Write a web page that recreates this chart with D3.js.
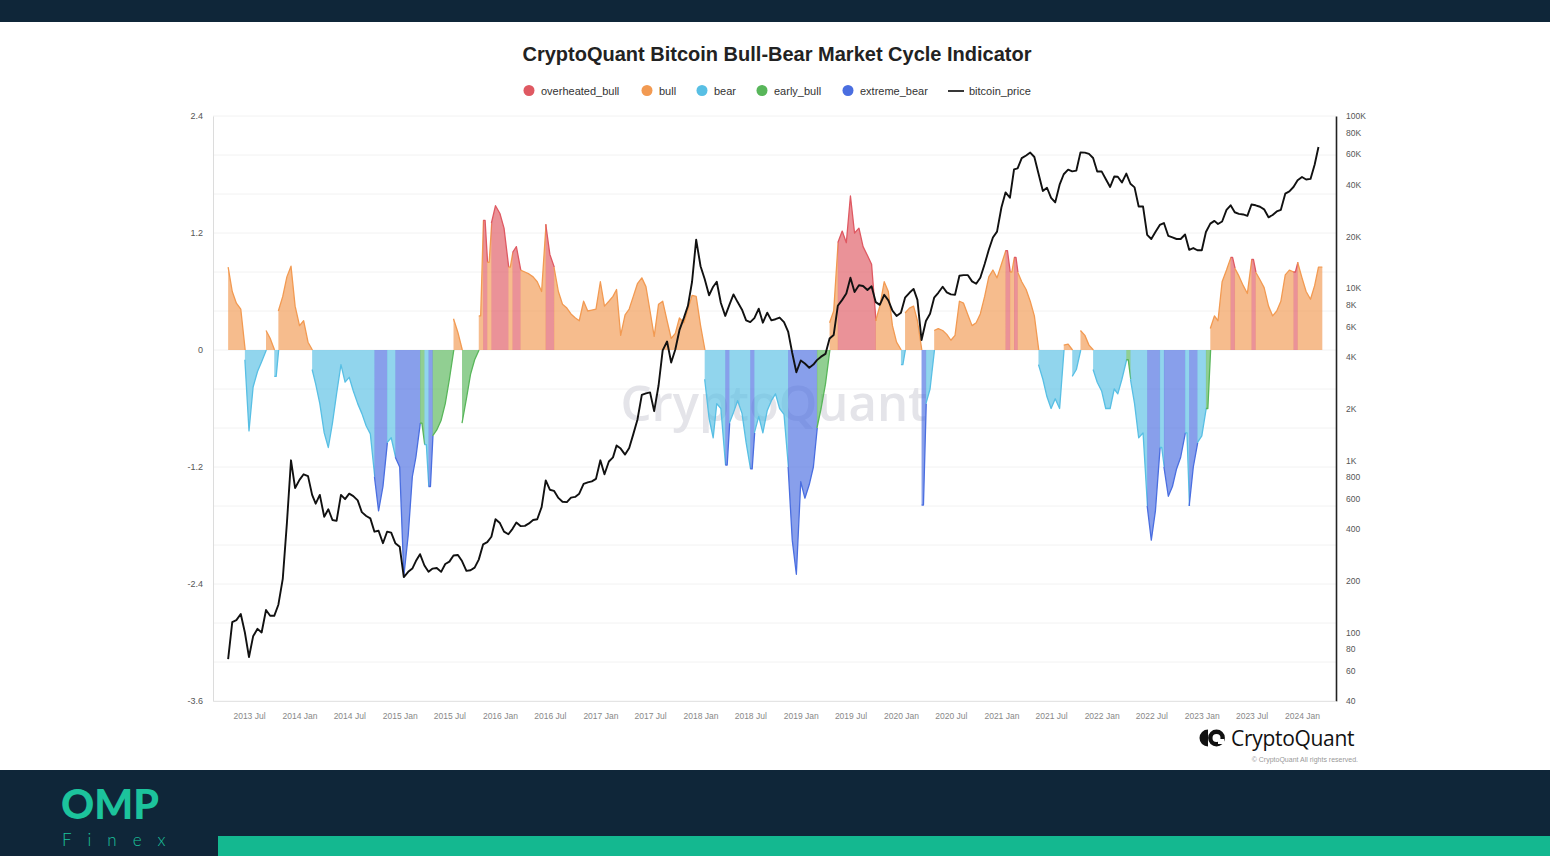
<!DOCTYPE html>
<html><head><meta charset="utf-8">
<script src="https://cdn.jsdelivr.net/npm/d3@7"></script>
<style>
body{margin:0;background:#fff;}
svg{display:block;font-family:"Liberation Sans",Arial,sans-serif;}
</style>
</head><body>
<svg id="c" width="1550" height="856"></svg>
<script>
// ---------- DATA ----------
const startDate = "2013-04-16";           // semi-monthly samples: 16th, 1st, 16th, ...
const seriesNames = ["overheated_bull","bull","bear","early_bull","extreme_bear"];
const phaseCodes = {O:"overheated_bull",B:"bull",R:"bear",E:"early_bull",X:"extreme_bear"};

const indicator = [
 0.85,0.6,0.48,0.42,-0.1,-0.83,-0.38,-0.22,-0.12,0.2,0.12,-0.27,0.4,0.55,0.75,0.86,0.45,0.25,0.3,0.08,
 -0.2,-0.35,-0.55,-0.85,-1.0,-0.75,-0.45,-0.15,-0.33,-0.28,-0.42,-0.55,-0.65,-0.78,-0.86,-1.3,-1.65,-1.4,-0.95,-0.9,
 -1.1,-1.2,-2.32,-1.9,-1.3,-1.1,-0.75,-0.97,-1.4,-0.88,-0.82,-0.72,-0.55,-0.3,0.32,0.18,-0.75,-0.5,-0.25,-0.1,
 0.35,1.33,0.9,1.3,1.48,1.4,1.25,0.85,1.0,1.06,0.82,0.8,0.78,0.75,0.7,0.6,1.29,0.98,0.85,0.6,
 0.47,0.43,0.37,0.33,0.3,0.5,0.4,0.41,0.42,0.7,0.45,0.5,0.55,0.62,0.15,0.36,0.42,0.55,0.68,0.74,
 0.65,0.4,0.14,0.47,0.5,0.3,0.12,0.17,0.33,0.28,0.42,0.56,0.55,0.25,-0.3,-0.7,-0.9,-0.55,-0.6,-1.18,
 -0.75,-0.64,-0.52,-0.65,-0.95,-1.22,-0.85,-0.68,-0.85,-0.62,-0.52,-0.45,-0.6,-0.66,-1.2,-1.95,-2.3,-1.35,-1.52,-1.38,
 -1.2,-0.8,-0.6,-0.35,0.28,0.4,1.1,1.22,1.1,1.58,1.2,1.25,1.06,0.97,0.88,0.3,0.45,0.7,0.6,0.25,
 0.08,-0.15,0.38,0.43,0.45,0.3,-1.59,-0.55,-0.4,0.2,0.22,0.2,0.16,0.1,0.15,0.5,0.48,0.36,0.25,0.28,
 0.37,0.55,0.75,0.82,0.74,0.88,1.02,0.8,0.95,0.8,0.7,0.62,0.5,0.35,-0.15,-0.3,-0.48,-0.6,-0.5,-0.6,
 0.05,0.06,-0.27,-0.2,0.2,0.15,0.05,-0.2,-0.33,-0.42,-0.6,-0.6,-0.4,-0.45,-0.3,-0.1,-0.3,-0.55,-0.9,-0.85,
 -1.6,-1.95,-1.65,-1.0,-1.2,-1.5,-1.4,-1.22,-1.1,-0.85,-1.6,-1.2,-0.95,-0.88,-0.6,0.22,0.35,0.3,0.7,0.82,
 0.95,0.84,0.76,0.66,0.58,0.93,0.8,0.72,0.64,0.45,0.35,0.4,0.5,0.77,0.82,0.8,0.9,0.74,0.6,0.52,
 0.66,0.85
];

const phase = (
 "BBBBRRRRRBBRBBBBBBBB"+
 "RRRRRRRRRRRRRRRXXXRR"+
 "XXXXXXERXEEEEEBBEEEE"+
 "BOBOOOOBOOBBBBBBOOBB"+
 "BBBBBBBBBBBBBBBBBBBB"+
 "BBBBBBBBBBBBBBRRRRRX"+
 "RRRRRXRRRRRRRRXXXXXX"+
 "XEEEBBOOOOOOOOOBBBBB"+
 "BRBBBBXRRBBBBBBBBBBB"+
 "BBBBBBOBOBBBBBRRRRRR"+
 "BBRRBBBRRRRRRRRERRRR"+
 "XXXRXXXXXRXXRREBBBBB"+
 "OBBBBOBBBBBBBBBOBBBB"+
 "BB").split("");

const price = [
 70,115,118,128,100,72,95,105,100,135,125,125,145,205,430,1000,690,
 770,830,810,630,560,630,470,520,450,445,630,595,640,620,585,500,475,460,385,390,330,385,380,330,
 315,210,225,235,260,285,245,225,235,237,225,250,258,280,282,260,228,230,238,265,325,335,360,455,
 432,385,372,400,435,415,416,430,450,455,535,765,675,665,605,575,572,607,613,640,730,745,755,780,
 1000,830,985,1040,1220,1170,1080,1180,1420,1720,2400,2450,2480,1930,2720,4350,4900,3700,4400,5700,6700,7900,10900,19100,
 13400,11300,9100,10200,10900,8200,6900,8000,9200,8300,7500,6500,6350,6700,7600,6300,7200,6500,6600,6750,6350,5600,4200,3250,
 3800,3650,3450,3600,3820,4000,4150,5100,5350,7900,8550,9300,11500,9500,10400,10300,9750,10250,8300,8000,9150,8500,7400,6900,
 7200,8800,9400,9900,8550,5000,6450,7100,8800,9400,10200,9450,9200,9150,11800,11900,11900,10950,10600,11500,13800,16700,19700,21300,
 29400,36000,33500,49000,49600,56900,59000,61300,57800,46400,36700,38300,33500,31500,39900,45900,48800,47700,48200,61500,61300,60200,57000,47600,
 47700,43100,38700,44500,44400,41100,46300,40400,38500,29800,29800,20400,19300,21200,23300,23900,20100,19700,19300,19300,20500,16700,17100,16600,
 16600,21200,23700,24600,23600,24400,28500,30300,27600,27000,26800,26300,30600,30300,29700,28700,25800,26600,27900,28500,35400,36500,38700,42300,
 44200,42800,43100,52100,66000
];

const leftTicks = [2.4,1.2,0,-1.2,-2.4,-3.6];
const rightTicks = [40,60,80,100,200,400,600,800,1000,2000,4000,6000,8000,10000,20000,40000,60000,80000,100000];
const xTickLabels = ["2013 Jul","2014 Jan","2014 Jul","2015 Jan","2015 Jul","2016 Jan","2016 Jul","2017 Jan","2017 Jul",
 "2018 Jan","2018 Jul","2019 Jan","2019 Jul","2020 Jan","2020 Jul","2021 Jan","2021 Jul","2022 Jan","2022 Jul",
 "2023 Jan","2023 Jul","2024 Jan"];

// ---------- STYLE ----------
const strong = {overheated_bull:"#df5962",bull:"#f29a52",bear:"#58bfe4",early_bull:"#58b65a",extreme_bear:"#4a6ee0"};
const navy = "#0f2639", teal = "#14b890";

// ---------- SETUP ----------
const svg = d3.select("#c");
const L = 213, R = 1336, T = 116, B = 701;

const parseTick = d3.timeParse("%Y %b");
const start = d3.isoParse(startDate + "T00:00:00Z");
function dateAt(i){
  const m = Math.floor((i+1)/2);
  const d = new Date(start.getTime());
  d.setUTCMonth(start.getUTCMonth() + m, i % 2 === 0 ? 16 : 1);
  return d;
}
const data = indicator.map((v,i)=>({date:dateAt(i), v, cat:phaseCodes[phase[i]], p:price[i]}));

const anchor = d3.scaleUtc().domain([Date.UTC(2013,6,1), Date.UTC(2024,0,1)]).range([249,1302]);
const x = d3.scaleUtc().domain([anchor.invert(L), anchor.invert(R)]).range([L,R]);
const y = d3.scaleLinear().domain([-3.6,2.4]).range([B,T]);
const yP = d3.scaleLog().domain([40,100000]).range([B,T]);

// background frames
svg.append("rect").attr("x",0).attr("y",0).attr("width",1550).attr("height",22).attr("fill",navy);
svg.append("rect").attr("x",0).attr("y",770).attr("width",1550).attr("height",86).attr("fill",navy);
svg.append("rect").attr("x",218).attr("y",836).attr("width",1332).attr("height",20).attr("fill",teal);
svg.append("text").attr("x",61).attr("y",819).attr("font-family","Lato, 'Open Sans', sans-serif")
  .attr("font-weight",900).attr("font-size",41).attr("letter-spacing",0).attr("fill","#1cc39c").text("OMP");
svg.append("text").attr("x",62).attr("y",846).attr("font-family","Lato, 'Open Sans', sans-serif")
  .attr("font-weight",300).attr("font-size",17).attr("letter-spacing",16).attr("fill","#1cc39c").text("Finex");

// title
svg.append("text").attr("x",777).attr("y",61).attr("text-anchor","middle")
  .attr("font-weight","bold").attr("font-size",20).attr("fill","#222")
  .text("CryptoQuant Bitcoin Bull-Bear Market Cycle Indicator");

// legend
const legendItems = [
  {name:"overheated_bull",cx:529},{name:"bull",cx:647},{name:"bear",cx:702},
  {name:"early_bull",cx:762},{name:"extreme_bear",cx:848}];
const lg = svg.append("g").attr("font-size",11).attr("fill","#333");
legendItems.forEach(it=>{
  lg.append("circle").attr("cx",it.cx).attr("cy",90.5).attr("r",5.5).attr("fill",strong[it.name]);
  lg.append("text").attr("x",it.cx+12).attr("y",95).text(it.name);
});
lg.append("line").attr("x1",948).attr("x2",964).attr("y1",91).attr("y2",91).attr("stroke","#222").attr("stroke-width",1.8);
lg.append("text").attr("x",969).attr("y",95).text("bitcoin_price");

// grid
const grid = svg.append("g");
d3.range(-3.6,2.41,0.4).forEach(v=>{
  grid.append("line").attr("x1",L).attr("x2",R).attr("y1",y(v)).attr("y2",y(v))
    .attr("stroke","#f2f2f2").attr("stroke-width",1);
});

// watermark
svg.append("text").attr("x",774).attr("y",421).attr("text-anchor","middle")
  .attr("font-size",49).attr("font-family","'Open Sans',Arial,sans-serif").attr("font-weight",600)
  .attr("fill","#e4e4e9").text("CryptoQuant");

// indicator: contiguous runs of one phase drawn as filled areas
const runs = [];
data.forEach((d,i)=>{
  if (!runs.length || runs[runs.length-1].cat !== d.cat) runs.push({cat:d.cat, idx:[]});
  runs[runs.length-1].idx.push(i);
});
const step = x(data[data.length-1].date) - x(data[data.length-2].date);
const area = d3.area().x(p=>p.x).y0(y(0)).y1(p=>y(p.v));
const topLine = d3.line().x(p=>p.x).y(p=>y(p.v));
const bars = svg.append("g");
runs.forEach(run=>{
  const pts = run.idx.map(i=>({x:x(data[i].date), v:data[i].v}));
  const last = run.idx[run.idx.length-1];
  const a = data[last];
  if (last + 1 < data.length) {
    const nx = data[last+1];
    const sameSign = Math.sign(nx.v) === Math.sign(a.v);
    pts.push({x:x(nx.date)+0.3, v: sameSign ? nx.v : 0});
  } else {
    pts.push({x:x(a.date)+step, v:a.v});
  }
  if (run.idx.length === 1) pts.splice(1,0,{x:pts[0].x+step*0.5, v:a.v});
  bars.append("path").attr("d",area(pts)).attr("fill",strong[run.cat]).attr("fill-opacity",0.66);
  bars.append("path").attr("d",topLine(pts)).attr("fill","none")
    .attr("stroke",strong[run.cat]).attr("stroke-width",1.3).attr("stroke-linejoin","round");
});

// price line
svg.append("path").datum(data)
  .attr("fill","none").attr("stroke","#111").attr("stroke-width",1.9).attr("stroke-linejoin","round")
  .attr("d",d3.line().x(d=>x(d.date)).y(d=>yP(d.p)));

// axes
const axL = svg.append("g").attr("transform",`translate(${L},0)`)
  .call(d3.axisLeft(y).tickValues(leftTicks).tickSize(0).tickPadding(10).tickFormat(d=>String(d)));
axL.select(".domain").attr("stroke","#dcdcdc");
axL.selectAll("text").attr("font-size",9).attr("fill","#555").attr("font-family","'Liberation Sans',Arial");

const fmtP = v => v >= 1000 ? (v/1000)+"K" : String(v);
const axR = svg.append("g").attr("transform",`translate(${R},0)`)
  .call(d3.axisRight(yP).tickValues(rightTicks).tickSize(0).tickPadding(10).tickFormat(fmtP));
axR.select(".domain").attr("stroke","#222").attr("stroke-width",1.6);
axR.selectAll("text").attr("font-size",8.5).attr("fill","#555").attr("font-family","'Liberation Sans',Arial");

const axB = svg.append("g").attr("transform",`translate(0,${B})`)
  .call(d3.axisBottom(x).tickValues(xTickLabels.map(s=>{const d=parseTick(s);return new Date(Date.UTC(d.getFullYear(),d.getMonth(),1));}))
    .tickSize(0).tickPadding(12).tickFormat((d,i)=>xTickLabels[i]));
axB.select(".domain").attr("stroke","#e4e4e4");
axB.selectAll("text").attr("font-size",8.5).attr("fill","#888").attr("font-family","'Liberation Sans',Arial");

// CryptoQuant logo bottom right
const lgo = svg.append("g");
lgo.append("path").attr("d","M1208,729.5 A8.5,8.5 0 0 0 1208,746.5 Z").attr("fill","#111");
lgo.append("circle").attr("cx",1216.5).attr("cy",738).attr("r",6.2).attr("fill","none").attr("stroke","#111").attr("stroke-width",4.4);
lgo.append("rect").attr("x",1218).attr("y",739).attr("width",6).attr("height",5).attr("fill","#fff");
lgo.append("text").attr("x",1231).attr("y",746).attr("font-family","'Open Sans',Arial,sans-serif")
  .attr("font-size",21).attr("font-weight",500).attr("fill","#111").attr("letter-spacing",-0.3).text("CryptoQuant");
svg.append("text").attr("x",1358).attr("y",762).attr("text-anchor","end").attr("font-size",7)
  .attr("fill","#999").text("© CryptoQuant All rights reserved.");
</script>
</body></html>
